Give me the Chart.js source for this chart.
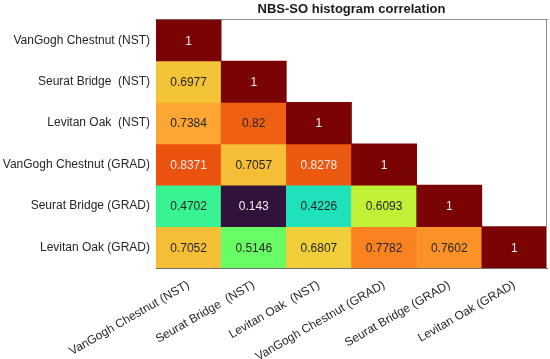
<!DOCTYPE html>
<html>
<head>
<meta charset="utf-8">
<script src="https://cdn.jsdelivr.net/npm/chart.js@4.4.0/dist/chart.umd.min.js"></script>
<style>
  html, body { margin: 0; padding: 0; background: #fff; }
</style>
</head>
<body>
<canvas id="chart" width="550" height="359"></canvas>
<script>
const labels = ['VanGogh Chestnut (NST)', 'Seurat Bridge  (NST)', 'Levitan Oak  (NST)',
    'VanGogh Chestnut (GRAD)', 'Seurat Bridge (GRAD)', 'Levitan Oak (GRAD)'];

// lower triangle, one array per row (top to bottom)
const row0 = [1];
const row1 = [0.6977, 1];
const row2 = [0.7384, 0.82, 1];
const row3 = [0.8371, 0.7057, 0.8278, 1];
const row4 = [0.4702, 0.143, 0.4226, 0.6093, 1];
const row5 = [0.7052, 0.5146, 0.6807, 0.7782, 0.7602, 1];
const rows = [row0, row1, row2, row3, row4, row5];

const title = 'NBS-SO histogram correlation';

const allValues = rows.flat();
const vMin = Math.min(...allValues);
const vMax = Math.max(...allValues);

// turbo colormap, sampled every 1/16
const turboStops = [
    [48, 18, 59], [64, 64, 162], [70, 107, 227], [66, 148, 255], [40, 188, 235],
    [24, 221, 194], [50, 242, 152], [109, 254, 98], [164, 252, 60], [205, 236, 52],
    [238, 207, 58], [253, 172, 52], [249, 123, 29], [233, 80, 13], [205, 46, 4],
    [169, 22, 1], [122, 4, 3]
];
function turbo(t) {
    t = Math.max(0, Math.min(1, t)) * (turboStops.length - 1);
    const i = Math.min(Math.floor(t), turboStops.length - 2);
    const f = t - i;
    const a = turboStops[i], b = turboStops[i + 1];
    const c = k => Math.round(a[k] + (b[k] - a[k]) * f);
    return 'rgb(' + c(0) + ',' + c(1) + ',' + c(2) + ')';
}
function norm(v) {
    return (v - vMin) / (vMax - vMin);
}

const datasets = rows.map((row, r) => ({
    label: labels[r],
    data: labels.map((_, c) => c < row.length ? [r, r + 1] : null),
    values: labels.map((_, c) => c < row.length ? row[c] : null),
    backgroundColor: labels.map((_, c) => c < row.length ? turbo(norm(row[c])) : 'rgba(0,0,0,0)'),
    borderWidth: 0,
    grouped: false,
    barPercentage: 1,
    categoryPercentage: 1
}));

const cellText = {
    id: 'cellText',
    afterDatasetsDraw(chart) {
        const ctx = chart.ctx;
        ctx.save();
        ctx.font = '12px "Liberation Sans", Arial, sans-serif';
        ctx.textAlign = 'center';
        ctx.textBaseline = 'middle';
        chart.data.datasets.forEach((ds, i) => {
            const meta = chart.getDatasetMeta(i);
            meta.data.forEach((bar, j) => {
                const v = ds.values[j];
                if (v === null) return;
                const t = norm(v);
                ctx.fillStyle = (t > 0.795 || t < 0.15) ? '#f4eeee' : '#262626';
                const y = (bar.y + bar.base) / 2;
                ctx.fillText(String(v), bar.x, y + 1);
            });
        });
        // right edge of the box
        const a = chart.chartArea;
        ctx.strokeStyle = '#8c8c8c';
        ctx.lineWidth = 1;
        ctx.beginPath();
        ctx.moveTo(Math.round(a.right) - 0.5, a.top);
        ctx.lineTo(Math.round(a.right) - 0.5, a.bottom);
        ctx.stroke();
        ctx.restore();
    }
};

const font = { family: '"Liberation Sans", Arial, sans-serif', size: 12 };

new Chart(document.getElementById('chart').getContext('2d'), {
    type: 'bar',
    data: { labels: labels, datasets: datasets },
    options: {
        responsive: false,
        animation: false,
        layout: { padding: { left: 0, right: 3, top: 0, bottom: 0 } },
        plugins: {
            legend: { display: false },
            tooltip: { enabled: false }
        },
        scales: {
            x: {
                type: 'category',
                position: 'bottom',
                grid: { display: false, drawTicks: false },
                border: { display: true, color: '#6e6e6e' },
                ticks: {
                    autoSkip: false, minRotation: 30, maxRotation: 30,
                    padding: 10, color: '#262626', font: font
                },
                afterFit: scale => { scale.height = 91; }
            },
            x2: {
                type: 'category',
                position: 'top',
                labels: labels,
                grid: { display: false, drawTicks: false },
                border: { display: true, color: '#8c8c8c' },
                ticks: { display: false },
                title: {
                    display: true, text: title, color: '#1a1a1a',
                    font: { family: font.family, size: 13, weight: 'bold' },
                    padding: { top: 2, bottom: 2 }
                }
            },
            y: {
                type: 'linear',
                reverse: true,
                min: 0,
                max: 6,
                grid: { display: false, drawTicks: false },
                border: { display: true, color: '#6e6e6e' },
                afterBuildTicks: scale => {
                    scale.ticks = labels.map((_, i) => ({ value: i + 0.5 }));
                },
                ticks: {
                    padding: 6, color: '#262626', font: font,
                    callback: (value, index) => labels[index]
                },
                afterFit: scale => { scale.width = 156; }
            }
        }
    },
    plugins: [cellText]
});
</script>
</body>
</html>
